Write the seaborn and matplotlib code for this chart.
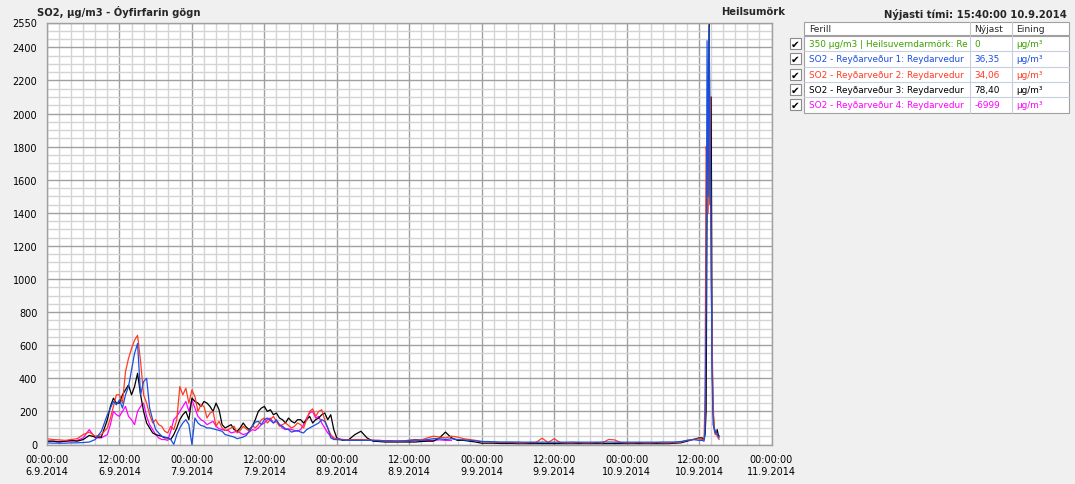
# SO2 concentrations, Reyðarfjörður stations 6.9.2014 - 10.9.2014
import numpy as np
import pandas as pd
import seaborn as sns
import matplotlib.pyplot as plt
import matplotlib.dates as mdates
from matplotlib.patches import Rectangle
from matplotlib.ticker import MultipleLocator, FixedLocator

# ── Data ─────────────────────────────────────────────────────────────────────
start = pd.Timestamp("2014-09-06 00:00")

# hourly values from hour 0 (00:00 6.9) to hour 108
red_hourly = [35, 30, 28, 25, 30, 35, 60, 75, 50, 60,
              100, 230, 300, 440, 580, 660, 300, 180, 150, 110,
              70, 90, 350, 340, 330, 200, 230, 190, 110, 100,
              90, 110, 85, 95, 115, 120, 160, 150, 140, 120,
              115, 110, 120, 150, 215, 200, 150, 60, 35, 30,
              28, 30, 30, 28, 25, 25, 22, 22, 20, 22,
              25, 30, 28, 40, 50, 45, 40, 50, 45, 35,
              30, 25, 18, 15, 15, 12, 12, 12, 10, 10,
              12, 12, 38, 12, 35, 12, 10, 10, 12, 10,
              10, 12, 10, 30, 28, 12, 10, 10, 12, 10,
              10, 12, 10, 10, 12, 15, 25, 30, 35]
blue_hourly = [10, 8, 8, 8, 10, 10, 12, 15, 30, 80,
               180, 260, 270, 300, 450, 610, 380, 220, 90, 50,
               40, 0, 100, 150, 0, 130, 110, 100, 90, 80,
               55, 45, 40, 55, 110, 140, 150, 145, 150, 110,
               90, 80, 75, 90, 110, 130, 140, 40, 30, 28,
               25, 25, 25, 25, 25, 22, 22, 22, 20, 22,
               25, 28, 25, 30, 35, 35, 30, 35, 30, 28,
               25, 22, 18, 18, 16, 15, 15, 15, 15, 14,
               14, 14, 14, 14, 14, 14, 14, 15, 14, 14,
               14, 14, 15, 15, 14, 14, 14, 14, 14, 14,
               14, 14, 15, 15, 15, 18, 25, 30, 25]
black_hourly = [20, 20, 15, 20, 25, 20, 30, 55, 45, 45,
                150, 280, 250, 330, 300, 430, 200, 100, 60, 50,
                40, 60, 150, 200, 280, 250, 260, 230, 250, 120,
                110, 90, 100, 105, 110, 200, 230, 210, 190, 150,
                160, 130, 150, 150, 130, 160, 190, 180, 40, 25,
                30, 60, 80, 40, 20, 18, 15, 15, 15, 15,
                15, 15, 18, 20, 20, 40, 75, 40, 25, 25,
                20, 15, 8, 8, 8, 6, 6, 6, 5, 5,
                5, 5, 5, 5, 5, 5, 5, 5, 5, 5,
                5, 5, 5, 5, 5, 5, 5, 5, 5, 5,
                5, 5, 5, 5, 8, 10, 20, 30, 40]
# station 4 stops reporting after hour 67
magenta_hourly = [20, 20, 18, 20, 20, 25, 40, 90, 40, 40,
                  60, 200, 170, 230, 150, 200, 250, 120, 60, 30,
                  25, 150, 200, 260, 270, 170, 140, 130, 110, 90,
                  85, 75, 70, 65, 90, 100, 130, 160, 140, 100,
                  95, 85, 90, 160, 200, 170, 100, 50, 30, 30,
                  28, 28, 26, 25, 25, 25, 22, 22, 22, 22,
                  22, 25, 25, 25, 25, 28, 25, 25]

# extra half-hour readings (10:30 on 6.9 to 23:30 on 7.9), the noisy episode
half_hours = [h + 0.5 for h in range(10, 48)]
red_half = [160, 300, 250, 520, 630, 500, 250, 130, 120, 80,
            110, 150, 300, 250, 290, 240, 160, 200, 140, 85,
            100, 70, 110, 80, 100, 150, 130, 170, 110, 130,
            100, 130, 100, 200, 170, 210, 100, 40]
blue_half = [220, 240, 220, 350, 550, 300, 400, 150, 70, 45,
             30, 60, 130, 120, 160, 115, 100, 95, 85, 60,
             50, 35, 45, 80, 135, 120, 160, 130, 120, 95,
             75, 85, 70, 100, 120, 150, 100, 30]
black_half = [230, 250, 300, 360, 350, 300, 130, 70, 55, 40,
              30, 100, 180, 150, 260, 230, 250, 200, 210, 100,
              120, 80, 130, 90, 150, 220, 200, 180, 160, 130,
              140, 150, 130, 170, 150, 180, 150, 90]
magenta_half = [120, 180, 200, 170, 120, 230, 170, 90, 40, 30,
                80, 170, 230, 200, 220, 150, 120, 140, 95, 85,
                70, 80, 60, 75, 85, 120, 150, 130, 120, 90,
                90, 80, 120, 190, 160, 130, 70, 35]

# 10-minute values around the spike on 10.9 (hours since start)
spike_hours = [108.5, 108.83, 109.0, 109.17, 109.33, 109.5, 109.67, 109.83,
               110.0, 110.17, 110.33, 110.5, 110.67, 110.83, 111.0, 111.17, 111.33]
red_spike = [30, 30, 300, 1800, 1750, 1400, 1850, 2100,
             1000, 600, 250, 90, 60, 80, 50, 40, 30]
blue_spike = [25, 20, 100, 860, 2440, 1500, 2520, 1800,
              1200, 400, 120, 100, 70, 80, 60, 50, 40]
black_spike = [40, 30, 60, 200, 1500, 1600, 2600, 1450,
               2100, 500, 200, 100, 80, 60, 90, 60, 50]

# legend table (names are cut off by the column, as in the original)
series_names = ["350 µg/m3 | Heilsuverndarmörk: Re",
                "SO2 - Reyðarveður 1: Reydarvedur",
                "SO2 - Reyðarveður 2: Reydarvedur",
                "SO2 - Reyðarveður 3: Reydarvedur",
                "SO2 - Reyðarveður 4: Reydarvedur"]
latest = ["0", "36,35", "34,06", "78,40", "-6999"]
units = ["µg/m³"] * 5
colors = ["#3ca000", "#1a4fe0", "#ff3b22", "#000000", "#ff00ff"]

# ── Long table for seaborn ────────────────────────────────────────────────────
hourly = list(range(len(red_hourly)))
full = hourly + half_hours + spike_hours
parts = [
    (series_names[4], list(range(len(magenta_hourly))) + half_hours,
     magenta_hourly + magenta_half),
    (series_names[3], full, black_hourly + black_half + black_spike),
    (series_names[2], full, red_hourly + red_half + red_spike),
    (series_names[1], full, blue_hourly + blue_half + blue_spike),
]
frames = []
for name, hrs, vals in parts:
    frames.append(pd.DataFrame({
        "time": start + pd.to_timedelta(hrs, unit="h"),
        "value": vals,
        "series": name,
    }))
df = pd.concat(frames, ignore_index=True)

# ── Figure ────────────────────────────────────────────────────────────────────
sns.set_style("white")
plt.rcParams["font.family"] = ["DejaVu Sans"]
BG = "#f0f0f0"
W, H = 1075, 485
fig = plt.figure(figsize=(W / 100, H / 100), dpi=100, facecolor=BG)
ax = fig.add_axes([47 / W, 1 - 445.5 / H, (771.5 - 47) / W, (445.5 - 23.5) / H])
ax.set_facecolor("white")

order = [p[0] for p in parts]
palette = dict(zip(series_names, colors))
sns.lineplot(data=df, x="time", y="value", hue="series", hue_order=order,
             palette=palette, estimator=None, sort=True, lw=0.9,
             legend=False, ax=ax)

ax.set_xlim(start, start + pd.Timedelta(days=5))
ax.set_ylim(0, 2550)
ax.yaxis.set_major_locator(FixedLocator(list(range(0, 2401, 200)) + [2550]))
ax.yaxis.set_minor_locator(MultipleLocator(50))
ax.xaxis.set_major_locator(mdates.HourLocator(byhour=[0, 12]))
ax.xaxis.set_minor_locator(mdates.HourLocator(byhour=range(0, 24, 2)))
ax.xaxis.set_major_formatter(mdates.DateFormatter("%H:%M:%S\n%-d.%-m.%Y"))

ax.set_axisbelow(True)
ax.grid(which="minor", color="#d4d4d4", lw=1)
ax.grid(which="major", color="#a0a0a0", lw=1)
for s in ax.spines.values():
    s.set_color("#a0a0a0")
    s.set_linewidth(1)
ax.tick_params(which="major", length=5, width=1, color="#909090",
               labelsize=7, labelcolor="black", pad=2)
ax.tick_params(which="minor", length=0)
ax.set_xlabel("")
ax.set_ylabel("")

# ── Titles ────────────────────────────────────────────────────────────────────
fig.text(37 / W, 1 - 12 / H, "SO2, µg/m3 - Óyfirfarin gögn", fontsize=7.2,
         fontweight="bold", ha="left", va="center")
fig.text(785 / W, 1 - 12 / H, "Heilsumörk", fontsize=7.2,
         fontweight="bold", ha="right", va="center")
fig.text(1067 / W, 1 - 14.5 / H, "Nýjasti tími: 15:40:00 10.9.2014", fontsize=7.2,
         fontweight="bold", ha="right", va="center")

# ── Legend table (pixel coordinates, y down) ─────────────────────────────────
ov = fig.add_axes([0, 0, 1, 1], zorder=5)
ov.set_xlim(0, W)
ov.set_ylim(H, 0)
ov.axis("off")
ov.patch.set_alpha(0)

col_x = [804, 969.5, 1011.5, 1069]
head_top, head_bot = 22.7, 35.7
body_top, row_h = 37.0, 15.3

ov.add_patch(Rectangle((col_x[0], head_top), col_x[-1] - col_x[0], head_bot - head_top,
                       facecolor="white", edgecolor="#a0a0a0", lw=0.8))
for cx in col_x[1:-1]:
    ov.plot([cx, cx], [head_top, head_bot], color="#c8c8c8", lw=0.8)
for cx, label in zip(col_x[:-1], ["Ferill", "Nýjast", "Eining"]):
    ov.text(cx + 5, (head_top + head_bot) / 2, label, fontsize=6.6,
            ha="left", va="center")

body_bot = body_top + row_h * len(series_names)
ov.add_patch(Rectangle((col_x[0], body_top), col_x[-1] - col_x[0], body_bot - body_top,
                       facecolor="white", edgecolor="#a0a0a0", lw=0.8))
for cx in col_x[1:-1]:
    ov.plot([cx, cx], [body_top, body_bot], color="#c8cfdc", lw=0.8)
for i in range(1, len(series_names)):
    yy = body_top + row_h * i
    ov.plot([col_x[0], col_x[-1]], [yy, yy], color="#c8cfdc", lw=0.8)

for i, (name, val, unit, col) in enumerate(zip(series_names, latest, units, colors)):
    yc = body_top + row_h * (i + 0.5)
    for j, txt in enumerate([name, val, unit]):
        clip = Rectangle((col_x[j], body_top + row_h * i), col_x[j + 1] - col_x[j] - 1, row_h,
                         transform=ov.transData)
        t = ov.text(col_x[j] + 5, yc, txt, fontsize=6.4, color=col,
                    ha="left", va="center", clip_on=True)
        t.set_clip_path(clip)
    # checkbox
    ov.add_patch(Rectangle((789.5, yc - 5.5), 11, 11, facecolor="white",
                           edgecolor="#8c8c8c", lw=0.8))
    ov.text(795, yc + 0.3, "✔", fontsize=7.5, ha="center", va="center", color="black")

fig.savefig("out.png", dpi=100, facecolor=BG)
